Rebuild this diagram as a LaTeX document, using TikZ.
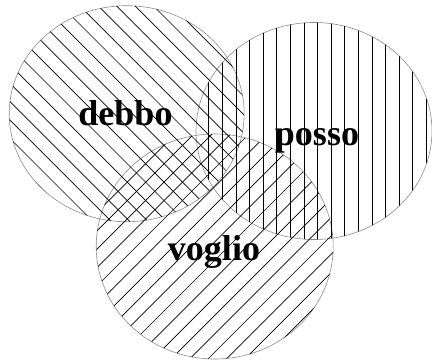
\documentclass[tikz,border=0pt]{standalone}
\usepackage{fontspec}
\setmainfont{Liberation Serif}
\usepackage{tikz}
\usetikzlibrary{shapes.geometric}
\definecolor{rim}{HTML}{8C8C8C}
\definecolor{ink}{HTML}{000000}
\tikzset{
  venn/.style={
    ellipse, inner sep=0pt, outer sep=0pt,
    draw=rim, line width=0.6pt,
  },
  hatch/.style={draw=ink, line width=0.7pt},
  word/.style={anchor=base, inner sep=0pt, text=ink, font=\fontsize{36}{40}\selectfont\bfseries},
}

\begin{document}
\begin{tikzpicture}[x=1pt, y=1pt]

  \useasboundingbox (0,0) rectangle (432,360);

  % the three sets
  \node[venn, minimum width=235pt, minimum height=216pt] (debbo) at (126.7,246.3) {};
  \node[venn, minimum width=236pt, minimum height=217pt] (posso) at (314,229) {};
  \node[venn, minimum width=237pt, minimum height=225pt] (voglio) at (214.7,113.5) {};

  % hatching
  \begin{scope}
    \clip (debbo.center) ellipse [x radius=117.5, y radius=108];
    \foreach \k in {-14,...,14}
      \draw[hatch] ([xshift=\k*18.4pt+5.7pt]debbo.center) ++(-130,130) -- ++(260,-260);
  \end{scope}
  \begin{scope}
    \clip (posso.center) ellipse [x radius=118, y radius=108.5];
    \foreach \k in {-9,...,9}
      \draw[hatch] ([xshift=\k*13.6pt+3.6pt]posso.center) ++(0,-120) -- ++(0,240);
  \end{scope}
  \begin{scope}
    \clip (voglio.center) ellipse [x radius=118.5, y radius=112.5];
    \foreach \k in {-14,...,14}
      \draw[hatch] ([xshift=\k*18.4pt-4.6pt]voglio.center) ++(-130,-130) -- ++(260,260);
  \end{scope}

  % names
  \node[word] (debbotxt) at (125.5,234.3) {debbo};
  \node[word] (possotxt) at (317,215) {posso};
  \node[word] (vogliotxt) at (214,100) {voglio};

\end{tikzpicture}
\end{document}
